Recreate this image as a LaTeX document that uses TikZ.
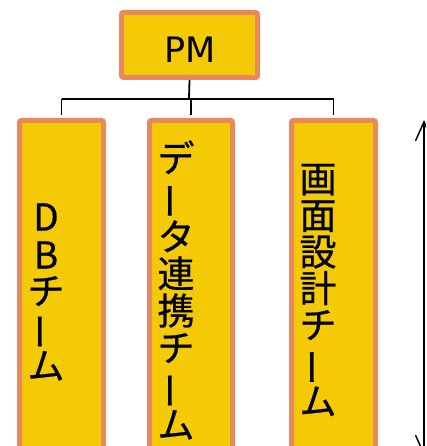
\documentclass[tikz,border=0pt]{standalone}
\usepackage{fontspec}
\usepackage{graphicx}
\newfontfamily\cjk[FakeBold=0.6]{Noto Sans CJK JP}
\newfontfamily\lat{DejaVu Sans}
\usetikzlibrary{arrows.meta}
\definecolor{boxfill}{HTML}{F3CA05}
\definecolor{boxline}{HTML}{E8895C}
\newcommand{\vbar}{\rotatebox[origin=c]{90}{ー}}
\tikzset{
  orgbox/.style={draw=boxline, fill=boxfill, line width=5pt, rounded corners=2pt, inner sep=0pt},
  link/.style={draw=black, line width=1.8pt},
  vtext/.style={align=center, inner sep=0pt, text=black},
}
\begin{document}
\begin{tikzpicture}[x=1pt,y=-1pt]
\useasboundingbox (0,0) rectangle (426,446);
\clip (0,0) rectangle (426,446);
% PM box
\node[orgbox, minimum width=136pt, minimum height=65pt] (pm) at (189.5,45) {};
\node[inner sep=0pt, font=\lat\fontsize{35}{38}\selectfont] (pmt) at (190,50) {PM};
% team boxes
\node[orgbox, minimum width=84pt, minimum height=347pt] (db) at (61.5,294) {};
\node[orgbox, minimum width=83pt, minimum height=347pt] (dt) at (191,294) {};
\node[orgbox, minimum width=84pt, minimum height=347pt] (gm) at (333.5,294) {};
% texts
\node[vtext, font=\cjk\fontsize{37}{35}\selectfont] (dbt) at (46,292)
  {D\\[3pt]B\\[1pt]チ\\\vbar\\ム};
\node[vtext, font=\cjk\fontsize{37}{37}\selectfont] (dtt) at (176,290)
  {デ\\\vbar\\タ\\連\\携\\チ\\\vbar\\ム};
\node[vtext, font=\cjk\fontsize{37}{36.5}\selectfont] (gmt) at (318,290)
  {画\\面\\設\\計\\チ\\\vbar\\ム};
% connectors
\coordinate (bus) at (189,99);
\draw[link] (pm.south) -- (bus);
\draw[link] (db.north |- bus) -- (gm.north |- bus);
\draw[link] (db.north |- bus) -- ([yshift=2.5pt]db.north);
\draw[link] (dt.north |- bus) -- ([yshift=2.5pt]dt.north);
\draw[link] (gm.north |- bus) -- ([yshift=2.5pt]gm.north);
% side arrow
\coordinate (atop) at (424,120);
\coordinate (abot) at (424,456);
\draw[line width=1.5pt, {Straight Barb[length=19pt,width=17pt]}-{Straight Barb[length=19pt,width=17pt]}] (atop) -- (abot);
\end{tikzpicture}
\end{document}
